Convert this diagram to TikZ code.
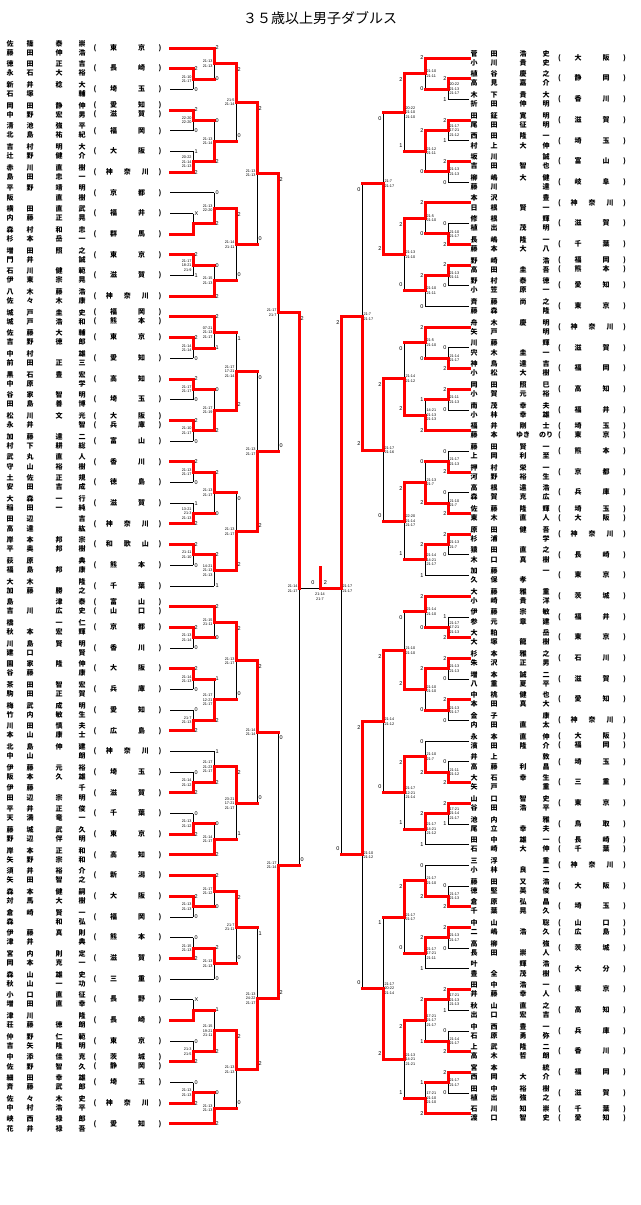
\documentclass[tikz,border=0pt]{standalone}
\usepackage{fontspec}
\setmainfont{Liberation Sans}
\newfontfamily\jp{Noto Sans CJK JP}
\pgfdeclarelayer{bg}
\pgfsetlayers{bg,main}
\tikzset{
  bk/.style={black, line width=0.8pt},
  rd/.style={red, line width=3pt, line cap=rect},
  sc/.style={font=\fontsize{5.5}{5.5}\selectfont, inner sep=0.3pt},
  gs/.style={font=\fontsize{3.8}{4.5}\selectfont, inner sep=0.3pt},
  nm/.style={font=\jp\bfseries\fontsize{7}{7}\selectfont, inner sep=0pt, anchor=west},
  pf/.style={font=\jp\bfseries\fontsize{7}{7}\selectfont, inner sep=0pt},
}
% nombres en cuatro casillas
\newcommand\nm[1]{\nmx#1}
\newcommand\nmx[4]{\makebox[20pt]{#1}\makebox[20pt]{#2}\hspace{9pt}\makebox[20pt]{#3}\hspace{3pt}\makebox[20pt]{#4}}
\newcommand\pfb[2]{#1\hspace{21pt}#2}
\newcommand\pfc[3]{#1\hspace{11pt}#2\hspace{11pt}#3}
\newcommand\prf[1]{\makebox[68pt]{(\hfill#1\hfill)}}
\def\sof{0}
% entrada izquierda: fila, columna, r/k, linea 1, linea 2, pref, pref 2
\newcommand\enL[7]{%
  \if r#3\draw[rd] (170,#1) -- (#2,#1);%
  \else\begin{pgfonlayer}{bg}\draw[bk] (170,#1) -- (#2,#1);\end{pgfonlayer}\fi
  \node[nm] at (0,#1-0.22) {\nm{#4}};
  \node[nm] at (0,#1+0.22) {\nm{#5}};
  \ifx\relax#7\relax\node[pf] at (127.5,#1) {\prf{#6}};%
  \else\node[pf] at (127.5,#1-0.22) {\prf{#6}};\node[pf] at (127.5,#1+0.22) {\prf{#7}};\fi}
% entrada derecha
\newcommand\enR[7]{%
  \if r#3\draw[rd] (469,#1) -- (#2,#1);%
  \else\begin{pgfonlayer}{bg}\draw[bk] (469,#1) -- (#2,#1);\end{pgfonlayer}\fi
  \node[nm] at (464,#1-0.22) {\nm{#4}};
  \node[nm] at (464,#1+0.22) {\nm{#5}};
  \ifx\relax#7\relax\node[pf] at (592,#1) {\prf{#6}};%
  \else\node[pf] at (592,#1-0.22) {\prf{#6}};\node[pf] at (592,#1+0.22) {\prf{#7}};\fi}
% partido izquierdo: columna, siguiente, arriba, abajo, ganador a/b, puntos, puntos, juegos
\newcommand\mtL[8]{%
  \begin{pgfonlayer}{bg}\draw[bk] (#1,#3) -- (#1,#4);\end{pgfonlayer}
  \if a#5\draw[rd] (#1,#3) -- (#1,{(#3+#4)/2}) -- (#2,{(#3+#4)/2});%
  \else\draw[rd] (#1,#4) -- (#1,{(#3+#4)/2}) -- (#2,{(#3+#4)/2});\fi
  \node[sc,anchor=west] at (#1+1,#3+\sof) {#6};
  \node[sc,anchor=west] at (#1+1,#4-\sof) {#7};
  \node[gs,anchor=east,align=right] at (#1-1,{(#3+#4)/2}) {#8};}
% partido derecho
\newcommand\mtR[8]{%
  \begin{pgfonlayer}{bg}\draw[bk] (#1,#3) -- (#1,#4);\end{pgfonlayer}
  \if a#5\draw[rd] (#1,#3) -- (#1,{(#3+#4)/2}) -- (#2,{(#3+#4)/2});%
  \else\draw[rd] (#1,#4) -- (#1,{(#3+#4)/2}) -- (#2,{(#3+#4)/2});\fi
  \node[sc,anchor=east] at (#1-1,#3+\sof) {#6};
  \node[sc,anchor=east] at (#1-1,#4-\sof) {#7};
  \node[gs,anchor=west,align=left] at (#1+1,{(#3+#4)/2}) {#8};}
\begin{document}
\begin{tikzpicture}[x=1pt,y=-1pt]
\useasboundingbox (0,0) rectangle (640,1205);
\node (titulo) at (320,18) {\jp\fontsize{14}{14}\selectfont ３５歳以上男子ダブルス};

% Lado izquierdo
\begin{scope}[yshift=-48pt, y=-20.69pt]
\enL{0}{214}{r}{佐篠泰崇}{藤田伸浩}{\pfb 東京}{}
\enL{1}{193}{r}{徳田正吉}{永石大裕}{\pfb 長崎}{}
\enL{2}{193}{k}{新井稔大}{石塚{}輔}{\pfb 埼玉}{}
\enL{3}{193}{r}{岡田静伸}{中野宏男}{\pfb 愛知}{\pfb 滋賀}
\enL{4}{193}{k}{清池強平}{北島祐紀}{\pfb 福岡}{}
\enL{5}{193}{k}{吉村明大}{辻野健介}{\pfb 大阪}{}
\enL{6}{193}{r}{赤川直樹}{島田忠一}{\pfc 神奈川}{}
\enL{7}{214}{k}{平野靖明}{阪{}直樹}{\pfb 京都}{}
\enL{8}{193}{k}{横田直武}{内藤正晃}{\pfb 福井}{}
\enL{9}{193}{r}{森村和忠}{杉本岳一}{\pfb 群馬}{}
\enL{10}{193}{r}{増田照之}{門井{}誠}{\pfb 東京}{}
\enL{11}{193}{k}{石川健範}{伊東宗晃}{\pfb 滋賀}{}
\enL{12}{214}{r}{八木藤浩}{佐々木康}{\pfc 神奈川}{}
\enL{13}{214}{r}{城戸圭史}{城戸浩和}{\pfb 福岡}{\pfb 熊本}
\enL{14}{193}{r}{佐藤大輔}{吉野徳郎}{\pfb 東京}{}
\enL{15}{193}{k}{中村{}雄}{前田正三}{\pfb 愛知}{}
\enL{16}{193}{r}{黒石豊宏}{中原{}学}{\pfb 高知}{}
\enL{17}{193}{k}{谷家智明}{田島善博}{\pfb 埼玉}{}
\enL{18}{193}{r}{松川文光}{永井{}智}{\pfb 大阪}{\pfb 兵庫}
\enL{19}{193}{k}{加藤達二}{村下耕総}{\pfb 富山}{}
\enL{20}{193}{r}{武丸直人}{守山裕樹}{\pfb 香川}{}
\enL{21}{193}{k}{土佐正規}{安田吉成}{\pfb 徳島}{}
\enL{22}{193}{k}{大森一行}{稲田一純}{\pfb 滋賀}{}
\enL{23}{193}{r}{田辺{}吉}{高達{}紘}{\pfc 神奈川}{}
\enL{24}{193}{r}{岸本邦宗}{平奥邦樹}{\pfc 和歌山}{}
\enL{25}{193}{k}{荻原{}典}{福島邦康}{\pfb 熊本}{}
\enL{26}{214}{k}{大木{}隆}{加藤勝之}{\pfb 千葉}{}
\enL{27}{214}{r}{島{}津泰}{吉川広史}{\pfb 富山}{\pfb 山口}
\enL{28}{193}{r}{橋{}一仁}{秋本宏輝}{\pfb 京都}{}
\enL{29}{193}{k}{川島賢明}{建口{}賢}{\pfb 香川}{}
\enL{30}{193}{r}{園家隆伸}{谷藤{}康}{\pfb 大阪}{}
\enL{31}{193}{k}{茶田智宏}{駒田正賀}{\pfb 兵庫}{}
\enL{32}{193}{k}{梅武成明}{竹内敏生}{\pfb 愛知}{}
\enL{33}{193}{r}{川田慎夫}{本山康士}{\pfb 広島}{}
\enL{34}{214}{k}{北島伸建}{中山{}朗}{\pfc 神奈川}{}
\enL{35}{193}{k}{伊藤元裕}{阪本久雄}{\pfb 埼玉}{}
\enL{36}{193}{r}{伊藤{}千}{田辺宗明}{\pfb 滋賀}{}
\enL{37}{193}{k}{平井正俊}{天満竜一}{\pfb 千葉}{}
\enL{38}{193}{r}{藤城武久}{野辺伴明}{\pfb 東京}{}
\enL{39}{214}{r}{岸本正和}{矢野宗和}{\pfb 高知}{}
\enL{40}{214}{r}{須井裕介}{矢田智之}{\pfb 新潟}{}
\enL{41}{193}{r}{森本健嗣}{対馬大樹}{\pfb 大阪}{}
\enL{42}{193}{k}{倉崎賢一}{森{}和弘}{\pfb 福岡}{}
\enL{43}{193}{k}{伊藤真則}{津井{}典}{\pfb 熊本}{}
\enL{44}{193}{r}{宮内則定}{岡本克一}{\pfb 滋賀}{}
\enL{45}{214}{k}{森山雄史}{秋山一功}{\pfb 三重}{}
\enL{46}{193}{k}{小口直征}{増田直幸}{\pfb 長野}{}
\enL{47}{193}{r}{津川{}隆}{荘藤徳朗}{\pfb 長崎}{}
\enL{48}{193}{k}{仲野仁範}{吉矢隆明}{\pfb 東京}{}
\enL{49}{193}{r}{中添佳克}{佐野智久}{\pfb 茨城}{\pfb 静岡}
\enL{50}{193}{k}{細田幸雄}{斉藤武郎}{\pfb 埼玉}{}
\enL{51}{193}{r}{佐々木史}{中村浩平}{\pfc 神奈川}{}
\enL{52}{214}{r}{峡西禄郎}{花井禄吾}{\pfb 愛知}{}
% primera ronda
\mtL{193}{214}{1}{2}{a}{2}{0}{21-10\\21-17}
\mtL{193}{214}{3}{4}{a}{2}{0}{22-20\\22-20}
\mtL{193}{214}{5}{6}{b}{1}{2}{20-22\\21-14\\21-13}
\mtL{193}{214}{8}{9}{b}{X}{}{}
\mtL{193}{214}{10}{11}{a}{2}{1}{21-17\\18-21\\21-9}
\mtL{193}{214}{14}{15}{a}{2}{0}{21-14\\21-14}
\mtL{193}{214}{16}{17}{a}{2}{0}{21-17\\21-17}
\mtL{193}{214}{18}{19}{a}{2}{0}{21-10\\21-17}
\mtL{193}{214}{20}{21}{a}{2}{0}{21-13\\21-17}
\mtL{193}{214}{22}{23}{b}{1}{2}{13-21\\21-3\\21-13}
\mtL{193}{214}{24}{25}{a}{2}{0}{21-11\\21-10}
\mtL{193}{214}{28}{29}{a}{2}{0}{21-13\\21-14}
\mtL{193}{214}{30}{31}{a}{2}{0}{21-14\\21-13}
\mtL{193}{214}{32}{33}{b}{0}{2}{21-7\\21-13}
\mtL{193}{214}{35}{36}{b}{0}{2}{21-14\\21-12}
\mtL{193}{214}{37}{38}{b}{0}{2}{21-13\\21-12}
\mtL{193}{214}{41}{42}{a}{2}{0}{21-13\\21-13}
\mtL{193}{214}{43}{44}{b}{0}{2}{21-15\\21-13}
\mtL{193}{214}{46}{47}{b}{X}{}{}
\mtL{193}{214}{48}{49}{b}{0}{2}{21-3\\21-5}
\mtL{193}{214}{50}{51}{b}{0}{2}{21-13\\21-13}
% segunda ronda
\mtL{214}{236}{0}{1.5}{a}{2}{0}{21-13\\21-13}
\mtL{214}{236}{3.5}{5.5}{b}{0}{2}{21-13\\21-14}
\mtL{214}{236}{7}{8.5}{b}{0}{2}{21-13\\22-20}
\mtL{214}{236}{10.5}{12}{b}{0}{2}{21-15\\21-13}
\mtL{214}{236}{13}{14.5}{a}{2}{1}{07-21\\21-13\\21-17}
\mtL{214}{236}{16.5}{18.5}{b}{0}{2}{21-17\\21-19}
\mtL{214}{236}{20.5}{22.5}{a}{2}{0}{21-13\\21-17}
\mtL{214}{236}{24.5}{26}{a}{2}{1}{14-21\\21-13\\21-13}
\mtL{214}{236}{27}{28.5}{a}{2}{0}{21-15\\21-11}
\mtL{214}{236}{30.5}{32.5}{b}{1}{2}{21-17\\12-21\\21-17}
\mtL{214}{236}{34}{35.5}{b}{1}{2}{21-17\\21-23\\21-17}
\mtL{214}{236}{37.5}{39}{b}{0}{2}{21-14\\21-17}
\mtL{214}{236}{40}{41.5}{a}{2}{0}{21-17\\21-12}
\mtL{214}{236}{43.5}{45}{a}{2}{0}{21-13\\21-13}
\mtL{214}{236}{46.5}{48.5}{b}{1}{2}{21-15\\19-21\\21-11}
\mtL{214}{236}{50.5}{52}{b}{0}{2}{21-13\\21-13}
% rondas siguientes
\def\sof{0.29}
\mtL{236}{257}{0.75}{4.5}{a}{2}{0}{21-5\\21-14}
\mtL{236}{257}{7.75}{11.25}{a}{2}{0}{21-14\\21-11}
\mtL{236}{257}{13.75}{17.5}{b}{1}{2}{21-17\\17-21\\21-14}
\mtL{236}{257}{21.5}{25.25}{b}{0}{2}{21-13\\21-17}
\mtL{236}{257}{27.75}{31.5}{a}{2}{0}{21-13\\21-17}
\mtL{236}{257}{34.75}{38.25}{a}{2}{1}{23-21\\17-21\\21-17}
\mtL{236}{257}{40.75}{44.25}{a}{2}{0}{21-7\\21-11}
\mtL{236}{257}{47.5}{51.25}{a}{2}{0}{21-13\\21-13}
\mtL{257}{278}{2.625}{9.5}{a}{2}{0}{21-13\\21-13}
\mtL{257}{278}{15.625}{23.375}{b}{0}{2}{21-13\\21-17}
\mtL{257}{278}{29.625}{36.5}{a}{2}{0}{21-14\\21-14}
\mtL{257}{278}{42.5}{49.375}{b}{1}{2}{21-13\\24-22\\21-17}
\mtL{278}{299}{6.0625}{19.5}{a}{2}{0}{21-17\\21-7}
\mtL{278}{299}{33.0625}{45.9375}{b}{0}{2}{21-17\\21-14}
\mtL{299}{299}{12.78125}{39.5}{a}{2}{0}{21-14\\21-17}
\end{scope}

% Lado derecho
\begin{scope}[yshift=-58pt, y=-20.7pt]
\def\sof{0}
\enR{0}{425}{r}{菅田浩史}{小川貴史}{\pfb 大阪}{}
\enR{1}{448}{r}{植谷慶之}{高見嘉介}{\pfb 静岡}{}
\enR{2}{448}{k}{木下貴大}{折田伸明}{\pfb 香川}{}
\enR{3}{448}{r}{田鉦寛明}{尾田征明}{\pfb 滋賀}{}
\enR{4}{448}{k}{西田隆一}{村上大伸}{\pfb 埼玉}{}
\enR{5}{448}{r}{坂川{}誠}{吉田智也}{\pfb 富山}{}
\enR{6}{448}{k}{柳嶋大健}{藤川{}達}{\pfb 岐阜}{}
\enR{7}{425}{r}{本沢{}豊}{日根賢一}{\pfc 神奈川}{}
\enR{8}{448}{k}{修根{}輝}{植出茂明}{\pfb 滋賀}{}
\enR{9}{448}{r}{長嶋隆一}{藤本大八}{\pfb 千葉}{}
\enR{10}{448}{r}{野崎{}浩}{高田圭吾}{\pfb 福岡}{\pfb 熊本}
\enR{11}{448}{k}{野村泰徳}{小笠原一}{\pfb 愛知}{}
\enR{12}{425}{k}{斉藤尚之}{藤森{}隆}{\pfb 東京}{}
\enR{13}{425}{r}{舟木慶明}{矢戸{}明}{\pfc 神奈川}{}
\enR{14}{448}{k}{川藤{}輝}{宍木圭一}{\pfb 滋賀}{}
\enR{15}{448}{r}{神鳥達吉}{小松大樹}{\pfb 福岡}{}
\enR{16}{448}{r}{岡田照巳}{小賀元裕}{\pfb 高知}{}
\enR{17}{448}{k}{南茂幸夫}{小林幸雄}{\pfb 福井}{}
\enR{18}{425}{r}{福井剛士}{藤本{ゆき}{のり}}{\pfb 埼玉}{\pfb 東京}
\enR{19}{448}{k}{藤田賢一}{上岡利至}{\pfb 熊本}{}
\enR{20}{448}{r}{押村栄一}{河野裕生}{\pfb 京都}{}
\enR{21}{448}{k}{高根遠浩}{森賀克広}{\pfb 兵庫}{}
\enR{22}{448}{r}{佐藤隆輝}{東木直人}{\pfb 埼玉}{\pfb 大阪}
\enR{23}{448}{r}{原田健吾}{杉浦{}学}{\pfc 神奈川}{}
\enR{24}{448}{k}{猿田直之}{木口真樹}{\pfb 長崎}{}
\enR{25}{425}{k}{加藤{}一}{久保孝{}}{\pfb 東京}{}
\enR{26}{425}{r}{大藤雅重}{小崎貴洋}{\pfb 茨城}{}
\enR{27}{448}{k}{伊藤宗敏}{参元章建}{\pfb 福井}{}
\enR{28}{448}{r}{大粕{}岳}{大塚龍樹}{\pfb 東京}{}
\enR{29}{448}{r}{杉本雅之}{朱沢正男}{\pfb 石川}{}
\enR{30}{448}{k}{増本誠二}{八重夏平}{\pfb 滋賀}{}
\enR{31}{448}{r}{中桃健也}{本田真大}{\pfb 愛知}{}
\enR{32}{448}{k}{金子{}康}{内田直太}{\pfc 神奈川}{}
\enR{33}{425}{k}{永本直伸}{濱田隆介}{\pfb 大阪}{\pfb 福岡}
\enR{34}{448}{k}{井上{}敦}{高藤利昌}{\pfb 埼玉}{}
\enR{35}{448}{r}{大石幸生}{矢戸{}重}{\pfb 三重}{}
\enR{36}{448}{r}{山口智史}{谷田浩平}{\pfb 東京}{}
\enR{37}{448}{k}{池内{}雅}{尾立幸夫}{\pfb 鳥取}{}
\enR{38}{425}{k}{田中雄一}{石崎大伸}{\pfb 長崎}{\pfb 千葉}
\enR{39}{425}{k}{三浮{}重}{小林良二}{\pfc 神奈川}{}
\enR{40}{448}{k}{藤田又浩}{徳堅英俊}{\pfb 大阪}{}
\enR{41}{448}{r}{倉原弘晶}{千葉晃久}{\pfb 埼玉}{}
\enR{42}{448}{r}{中山{}聡}{二嶋浩久}{\pfb 山口}{\pfb 広島}
\enR{43}{448}{k}{高柳{}強}{長田崇人}{\pfb 茨城}{}
\enR{44}{425}{k}{叶{}輝浩}{豊全茂樹}{\pfb 大分}{}
\enR{45}{448}{r}{田中浩一}{井藤幸人}{\pfb 東京}{}
\enR{46}{448}{k}{秋山直之}{出口宏吉}{\pfb 高知}{}
\enR{47}{448}{k}{中西豊一}{石原勇弥}{\pfb 兵庫}{}
\enR{48}{448}{r}{上武隆二}{高木哲朗}{\pfb 香川}{}
\enR{49}{448}{r}{宮本{}統}{西岡大介}{\pfb 福岡}{}
\enR{50}{448}{k}{田中裕樹}{植出強之}{\pfb 滋賀}{}
\enR{51}{425}{r}{石川知崇}{渡口智史}{\pfb 千葉}{\pfb 愛知}
% primera ronda
\mtR{448}{425}{1}{2}{a}{2}{1}{20-22\\21-13\\21-17}
\mtR{448}{425}{3}{4}{a}{2}{1}{21-17\\17-21\\21-12}
\mtR{448}{425}{5}{6}{a}{2}{0}{21-13\\21-13}
\mtR{448}{425}{8}{9}{b}{0}{2}{21-10\\21-17}
\mtR{448}{425}{10}{11}{a}{2}{0}{21-13\\21-11}
\mtR{448}{425}{14}{15}{b}{0}{2}{21-14\\21-17}
\mtR{448}{425}{16}{17}{a}{2}{0}{21-11\\21-13}
\mtR{448}{425}{19}{20}{b}{0}{2}{21-17\\21-13}
\mtR{448}{425}{21}{22}{b}{0}{2}{21-10\\21-7}
\mtR{448}{425}{23}{24}{a}{2}{0}{21-13\\21-7}
\mtR{448}{425}{27}{28}{b}{1}{2}{21-17\\17-21\\21-13}
\mtR{448}{425}{29}{30}{a}{2}{0}{21-13\\21-13}
\mtR{448}{425}{31}{32}{a}{2}{0}{21-13\\21-17}
\mtR{448}{425}{34}{35}{b}{0}{2}{21-11\\21-12}
\mtR{448}{425}{36}{37}{a}{2}{1}{17-21\\21-14\\21-17}
\mtR{448}{425}{40}{41}{b}{0}{2}{21-17\\21-13}
\mtR{448}{425}{42}{43}{a}{2}{0}{21-13\\21-17}
\mtR{448}{425}{45}{46}{a}{2}{1}{17-21\\21-13\\21-13}
\mtR{448}{425}{47}{48}{b}{0}{2}{21-14\\21-17}
\mtR{448}{425}{49}{50}{a}{2}{0}{21-17\\21-17}
% segunda ronda
\mtR{425}{404}{0}{1.5}{a}{2}{0}{21-10\\21-11}
\mtR{425}{404}{3.5}{5.5}{a}{2}{0}{21-12\\21-11}
\mtR{425}{404}{7}{8.5}{a}{2}{0}{21-5\\21-10}
\mtR{425}{404}{10.5}{12}{a}{2}{0}{21-10\\21-11}
\mtR{425}{404}{13}{14.5}{a}{2}{0}{21-5\\21-10}
\mtR{425}{404}{16.5}{18}{b}{1}{2}{14-21\\21-13\\21-13}
\mtR{425}{404}{19.5}{21.5}{b}{0}{2}{21-13\\21-7}
\mtR{425}{404}{23.5}{25}{a}{2}{1}{21-14\\14-21\\21-17}
\mtR{425}{404}{26}{27.5}{a}{2}{0}{21-14\\21-10}
\mtR{425}{404}{29.5}{31.5}{a}{2}{0}{21-10\\21-10}
\mtR{425}{404}{33}{34.5}{b}{0}{2}{21-10\\21-7}
\mtR{425}{404}{36.5}{38}{a}{2}{1}{21-17\\14-21\\21-12}
\mtR{425}{404}{39}{40.5}{b}{0}{2}{21-17\\21-10}
\mtR{425}{404}{42.5}{44}{a}{2}{1}{21-17\\17-21\\21-11}
\mtR{425}{404}{45.5}{47.5}{a}{2}{1}{17-21\\21-17\\21-17}
\mtR{425}{404}{49.5}{51}{b}{1}{2}{17-21\\21-10\\21-10}
% rondas siguientes
\def\sof{0.29}
\mtR{404}{383}{0.75}{4.5}{a}{2}{1}{20-22\\21-10\\21-10}
\mtR{404}{383}{7.75}{11.25}{a}{2}{0}{21-13\\21-10}
\mtR{404}{383}{13.75}{17.25}{b}{0}{2}{21-14\\21-12}
\mtR{404}{383}{20.5}{24.25}{a}{2}{1}{22-20\\21-14\\21-17}
\mtR{404}{383}{26.75}{30.5}{b}{0}{2}{21-10\\21-10}
\mtR{404}{383}{33.75}{37.25}{a}{2}{1}{21-17\\12-21\\21-14}
\mtR{404}{383}{39.75}{43.25}{a}{2}{0}{21-17\\21-17}
\mtR{404}{383}{46.5}{50.25}{a}{2}{1}{21-13\\14-21\\21-21}
\mtR{383}{362}{2.625}{9.5}{b}{0}{2}{21-7\\21-17}
\mtR{383}{362}{15.5}{22.375}{a}{2}{0}{21-17\\21-16}
\mtR{383}{362}{28.625}{35.5}{a}{2}{0}{21-14\\21-12}
\mtR{383}{362}{41.5}{48.375}{b}{1}{2}{21-17\\20-22\\21-14}
\mtR{362}{341}{6.0625}{18.9375}{b}{0}{2}{21-7\\21-17}
\mtR{362}{341}{32.0625}{44.9375}{a}{2}{0}{21-10\\21-12}
% semifinal derecha
\begin{pgfonlayer}{bg}\draw[bk] (341,12.5) -- (341,38.5);\end{pgfonlayer}
\draw[rd] (341,12.5) -- (341,25.645);
\node[sc,anchor=east] at (340,12.5+\sof) {2};
\node[sc,anchor=east] at (340,38.5-\sof) {0};
\node[gs,anchor=west,align=left] at (342,25.645) {21-17\\21-17};
\end{scope}

% Final
\coordinate (fizq) at (299,588.85);
\coordinate (fder) at (341,588.85);
\coordinate (fmed) at (320,588.85);
\coordinate (campeon) at (320,567);
\begin{pgfonlayer}{bg}\draw[bk] (fizq) -- (fmed);\end{pgfonlayer}
\draw[rd] (fder) -- (fmed) -- (campeon);
\node[sc] (pizq) at (313,583) {0};
\node[sc] (pder) at (325.5,583) {2};
\node[gs,align=center] (jfinal) at (320,596.5) {21-14\\21-7};
\end{tikzpicture}
\end{document}
